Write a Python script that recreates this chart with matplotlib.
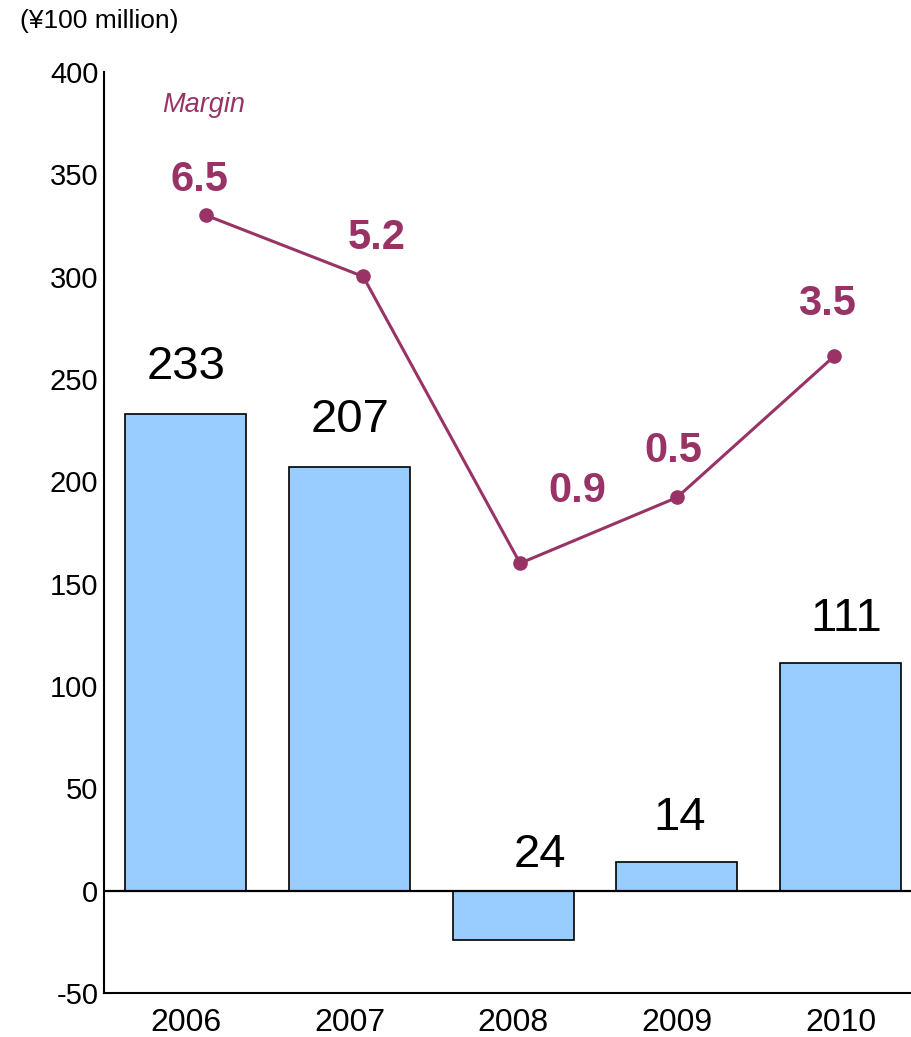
import numpy as np
import matplotlib
matplotlib.use("Agg")
import matplotlib.pyplot as plt

plt.rcParams['font.family'] = ['Liberation Sans', 'DejaVu Sans']

# data
years = ['2006', '2007', '2008', '2009', '2010']
income = [233, 207, -24, 14, 111]          # operating income, 100 million yen
margin = [6.5, 5.2, -0.9, 0.5, 3.5]        # operating margin, %
yticks = [-50, 0, 50, 100, 150, 200, 250, 300, 350, 400]

bar_color = '#99ccff'
line_color = '#993366'

fig = plt.figure(figsize=(9.11, 10.37), dpi=100)
ax = fig.add_axes([0.1142, 0.0424, 0.8858, 0.8882])

x = np.arange(len(years))
ax.bar(x, income, width=0.74, color=bar_color, edgecolor='black', linewidth=1.2, zorder=2)
ax.axhline(0, color='black', linewidth=1.6, zorder=3)

ax.set_xlim(-0.5, 4.43)
ax.set_ylim(-50, 400)
ax.set_yticks(yticks)
ax.set_yticklabels([str(t) for t in yticks])
ax.set_xticks(x)
ax.set_xticklabels(years)
ax.tick_params(axis='y', length=0, pad=4, labelsize=21)
ax.tick_params(axis='x', length=0, pad=11, labelsize=23)
for s in ['top', 'right']:
    ax.spines[s].set_visible(False)
for s in ['left', 'bottom']:
    ax.spines[s].set_linewidth(1.5)

# bar value labels (shown without sign)
bar_offsets = [(0, 18), (0, 18), (19, 10), (2, 16), (4, 16)]
for i, v in enumerate(income):
    base = max(v, 0)
    ax.annotate(str(abs(v)), (x[i], base), xytext=bar_offsets[i], textcoords='offset points',
                ha='center', va='bottom', fontsize=34, zorder=4)

# margin line on its own overlay axes
ax2 = fig.add_axes(ax.get_position(), frameon=False)
ax2.set_xlim(-0.651, 4.491)
ax2.set_ylim(-10.04, 9.55)
ax2.plot(x, margin, color=line_color, linewidth=2.2, marker='o', markersize=9.5, zorder=5)
ax2.set_xticks([])
ax2.set_yticks([])

m_offsets = [(-5, 11), (10, 13), (41, 38), (-3, 19), (-5, 23)]
for i, m in enumerate(margin):
    ax2.annotate(f'{abs(m):.1f}', (x[i], m), xytext=m_offsets[i], textcoords='offset points',
                 ha='center', va='bottom', fontsize=30, fontweight='bold', color=line_color)

ax2.text(0.124, 0.964, 'Margin', transform=ax2.transAxes, ha='center', va='center',
         fontsize=19.5, style='italic', color=line_color)

fig.text(0.022, 0.98, '(¥100 million)', ha='left', va='center', fontsize=19)

fig.savefig('out.png', dpi=100)
